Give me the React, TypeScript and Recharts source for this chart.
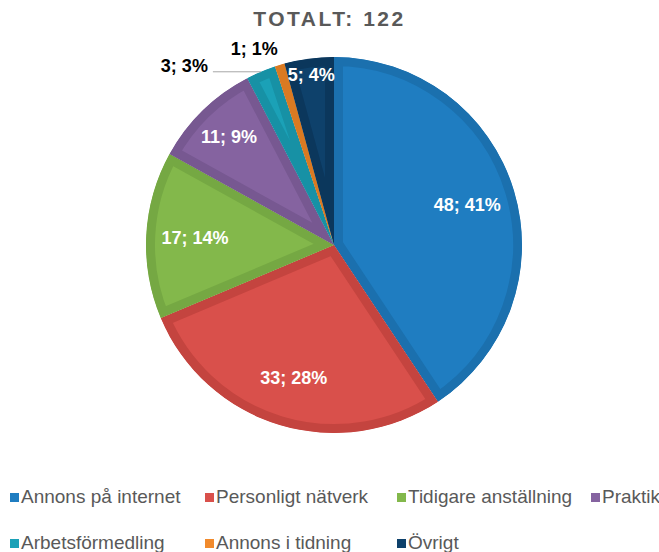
import { PieChart, Pie, Cell, Sector, Legend } from 'recharts';

const TITLE = 'TOTALT: 122';
const categories = [
  'Annons på internet',
  'Personligt nätverk',
  'Tidigare anställning',
  'Praktik',
  'Arbetsförmedling',
  'Annons i tidning',
  'Övrigt',
];
const counts = [48, 33, 17, 11, 3, 1, 5];
const colors = ['#1F7DC1', '#D9504B', '#83B84B', '#8563A0', '#1BA1B7', '#F18A2C', '#0E416B'];
const bandColors = ['#1B70AE', '#C4443F', '#75A843', '#775891', '#1791A5', '#DA7A22', '#0B375C'];

const FONT = '"Liberation Sans", Arial, sans-serif';
const RAD = Math.PI / 180;

const data = categories.map((name, i) => ({ name, value: counts[i] }));

function BevelSector(props: any) {
  const i = categories.indexOf(props.payload?.name ?? props.name);
  const id = `clip-slice-${i}`;
  return (
    <g>
      <defs>
        <clipPath id={id}>
          <Sector {...props} stroke="none" />
        </clipPath>
      </defs>
      <Sector
        {...props}
        fill={colors[i]}
        stroke={bandColors[i]}
        strokeWidth={18}
        strokeLinejoin="miter"
        clipPath={`url(#${id})`}
      />
    </g>
  );
}

function renderLabel(props: any) {
  const { cx, cy, midAngle, outerRadius, percent, value, index } = props;
  const text = `${value}; ${Math.round(percent * 100)}%`;
  const cos = Math.cos(-midAngle * RAD);
  const sin = Math.sin(-midAngle * RAD);
  if (percent < 0.03) {
    // small slices: label outside, in black
    const ex = cx + outerRadius * cos;
    const ey = cy + outerRadius * sin;
    if (index === 4) {
      return (
        <g>
          <line x1={ex} y1={ey} x2={ex - 48} y2={ey} stroke="#A6A6A6" strokeWidth={1} />
          <text x={ex - 53} y={ey} textAnchor="end" fontFamily={FONT} fontWeight="bold" fontSize={18} fill="#000">
            {text}
          </text>
        </g>
      );
    }
    const r = outerRadius + 17;
    return (
      <text x={cx + r * cos + 3} y={cy + r * sin + 6} textAnchor="end" fontFamily={FONT} fontWeight="bold" fontSize={18} fill="#000">
        {text}
      </text>
    );
  }
  const k = percent < 0.06 ? 0.91 : percent < 0.12 ? 0.8 : 0.74;
  const r = outerRadius * k;
  return (
    <text
      x={cx + r * cos}
      y={cy + r * sin}
      textAnchor="middle"
      dominantBaseline="central"
      fontFamily={FONT}
      fontWeight="bold"
      fontSize={18}
      fill="#FFFFFF"
    >
      {text}
    </text>
  );
}

const colWidths = [195, 192, 194, 70];

function LegendContent() {
  return (
    <div
      style={{
        display: 'grid',
        gridTemplateColumns: colWidths.map((w) => `${w}px`).join(' '),
        rowGap: 22,
        paddingLeft: 10,
        fontFamily: FONT,
        fontSize: 19,
        color: '#595959',
        whiteSpace: 'nowrap',
      }}
    >
      {categories.map((name, i) => (
        <div key={name} style={{ display: 'flex', alignItems: 'center', height: 24 }}>
          <span style={{ width: 9, height: 9, background: colors[i], marginRight: 2, display: 'inline-block' }} />
          <span>{name}</span>
        </div>
      ))}
    </div>
  );
}

export default function App() {
  return (
    <div style={{ position: 'absolute', left: 0, top: 0, width: 659, height: 552, background: '#fff' }}>
      <div
        style={{
          position: 'absolute',
          top: 7,
          left: 0,
          width: 659,
          textAlign: 'center',
          fontFamily: FONT,
          fontWeight: 'bold',
          fontSize: 21,
          letterSpacing: 2.5,
          color: '#595959',
        }}
      >
        {TITLE}
      </div>
      <PieChart width={659} height={552} margin={{ top: 0, right: 0, bottom: 0, left: 0 }}>
        <Pie
          data={data}
          dataKey="value"
          nameKey="name"
          cx={334}
          cy={245}
          outerRadius={188}
          startAngle={90}
          endAngle={-270}
          stroke="none"
          labelLine={false}
          label={renderLabel}
          shape={BevelSector}
          activeShape={BevelSector}
          inactiveShape={BevelSector}
          isAnimationActive={false}
        >
          {data.map((d, i) => (
            <Cell key={d.name} fill={colors[i]} />
          ))}
        </Pie>
        <Legend
          verticalAlign="bottom"
          align="left"
          content={() => <LegendContent />}
          wrapperStyle={{ left: 0, bottom: -3, width: 659 }}
        />
      </PieChart>
    </div>
  );
}
